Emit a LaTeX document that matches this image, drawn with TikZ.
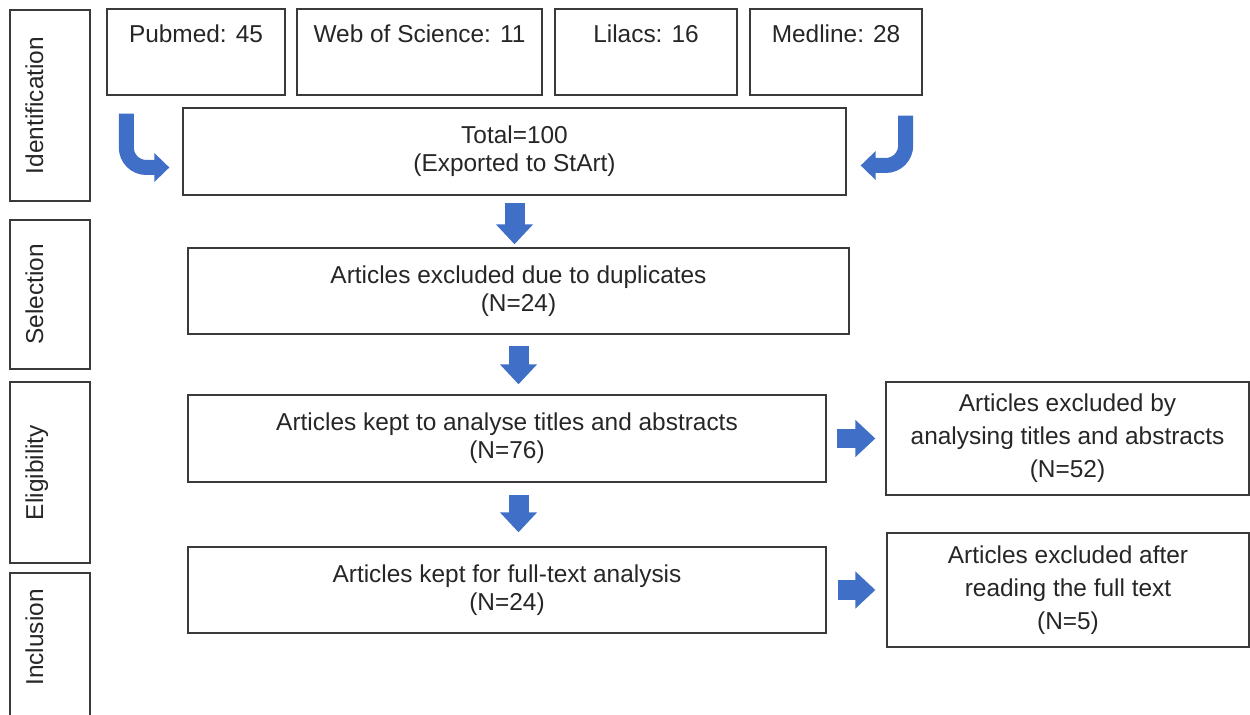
\documentclass[tikz,border=0pt]{standalone}
\usepackage{fontspec}
\setmainfont{Liberation Sans}
\usepackage{xcolor}
\usepackage{tikz}
\usetikzlibrary{arrows.meta,calc,positioning}
\definecolor{fblue}{HTML}{3F6FC6}
\definecolor{fline}{HTML}{3A3A3A}
\definecolor{ftext}{HTML}{262626}
\tikzset{
  fbox/.style={draw=fline, line width=0.8pt, align=center, text=ftext,
               inner sep=2pt, font=\fontsize{13.9}{15.9}\selectfont},
  fsrc/.style={fbox, inner ysep=0.2cm, text height=0.48cm, text depth=0.84cm},
  fexcl/.style={fbox, font=\fontsize{13.9}{18.8}\selectfont},
  fphase/.style={draw=fline, line width=0.8pt, rotate=90, text=ftext, inner sep=0pt,
                 minimum height=1.6cm, text height=0.45cm, text depth=0.73cm,
                 font=\fontsize{13.9}{15.9}\selectfont},
  farrow/.style={-{Triangle[length=0.4cm,width=0.72cm]}, fblue, line width=0.4cm},
  fbend/.style={-{Triangle[length=0.3cm,width=0.56cm]}, fblue, line width=0.3cm,
                rounded corners=0.4cm},
}

\begin{document}
\begin{tikzpicture}[x=0.02cm,y=-0.02cm]

  \useasboundingbox (0,0) rectangle (1250,715);

  % fases
  \node[fphase, minimum width=3.82cm] (ident) at (50,105.5) {Identification};
  \node[fphase, minimum width=2.98cm] (selp)  at (50,294.5) {Selection};
  \node[fphase, minimum width=3.62cm] (eligp) at (50,472.5) {Eligibility};
  \node[fphase, minimum width=3.04cm] (inclp) at (50,649)   {\hspace{0.46cm}Inclusion};

  % bases
  \node[fsrc, minimum width=3.56cm] (pub) at (196,52)   {Pubmed: 45};
  \node[fsrc, minimum width=4.90cm] (wos) at (419.5,52) {Web of Science: 11};
  \node[fsrc, minimum width=3.64cm] (lil) at (646,52)   {Lilacs: 16};
  \node[fsrc, minimum width=3.44cm] (med) at (836,52)   {Medline: 28};

  % etapas
  \node[fbox, minimum width=13.26cm, minimum height=1.74cm] (total) at (514.5,151.5)
       {Total=100\\(Exported to StArt)};
  \node[fbox, minimum width=13.22cm, minimum height=1.72cm] (sel) at (518.5,291)
       {Articles excluded due to duplicates\\(N=24)};
  \node[fbox, minimum width=12.76cm, minimum height=1.74cm] (elig) at (507,438.5)
       {Articles kept to analyse titles and abstracts\\(N=76)};
  \node[fbox, minimum width=12.76cm, minimum height=1.72cm] (full) at (507,590)
       {Articles kept for full-text analysis\\(N=24)};

  % excluidos
  \node[fexcl, minimum width=7.26cm, minimum height=2.26cm] (excla) at (1067.5,438.5)
       {Articles excluded by\\analysing titles and abstracts\\(N=52)};
  \node[fexcl, minimum width=7.24cm, minimum height=2.28cm] (exclb) at (1068,590)
       {Articles excluded after\\reading the full text\\(N=5)};

  % setas curvas
  \draw[fbend] ([shift={(20,18)}]pub.south west) |- ([shift={(-13,16)}]total.west);
  \draw[fbend] ([shift={(-17,20)}]med.south east) |- ([shift={(14,14)}]total.east);

  % setas
  \draw[farrow, shorten <=0.15cm, shorten >=0.06cm] (total.south) -- (total.south |- sel.north);
  \draw[farrow, shorten <=0.22cm, shorten >=0.2cm] (sel.south) -- (sel.south |- elig.north);
  \draw[farrow, shorten <=0.24cm, shorten >=0.28cm] (elig.south -| sel.south) -- (sel.south |- full.north);
  \draw[farrow, shorten <=0.2cm, shorten >=0.2cm] (elig.east) -- (elig.east -| excla.west);
  \draw[farrow, shorten <=0.22cm, shorten >=0.22cm] (full.east) -- (full.east -| exclb.west);

\end{tikzpicture}
\end{document}
